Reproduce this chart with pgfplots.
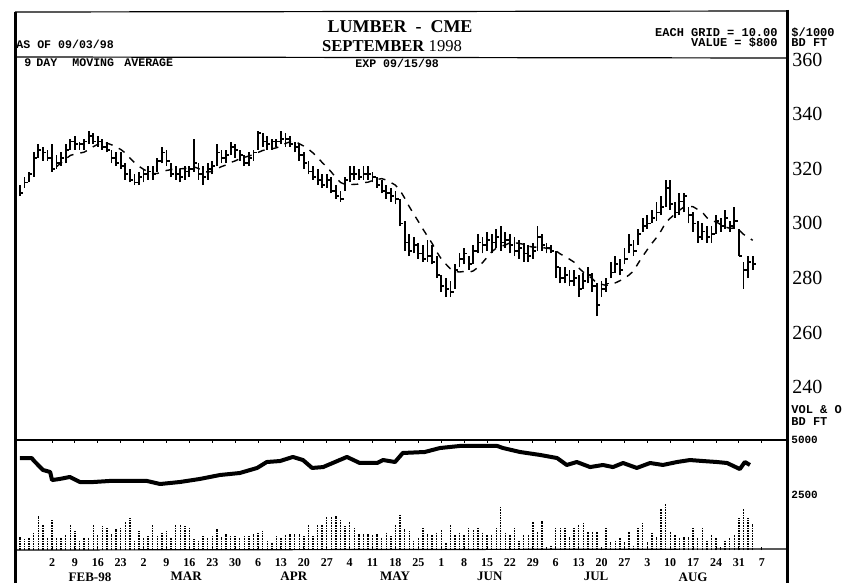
\documentclass[border=0pt]{standalone}
\usepackage{fontspec}
\setmainfont{Liberation Serif}
\setmonofont{Liberation Mono}
\usepackage{pgfplots}
\usepackage{pgfplotstable}
\pgfplotsset{compat=1.18}

\pgfplotstableread{
d h l c
-7 314 310 311
-6 317 313 315
-5 319 315 318
-4 326 317 324
-3 329 324 327
-2 328 323 326
-1 327 323 324
0 329 319 320
1 325 320 322
2 326 321 324
3 329 322 327
4 331 327 330
5 332 327 329
6 330 327 329
7 331 327 330
8 334 329 332
9 333 329 330
10 332 328 330
11 331 327 328
12 330 326 327
13 327 322 324
14 326 321 322
15 326 320 321
16 322 316 318
17 320 315 316
18 318 314 315
19 319 314 317
20 320 315 318
21 321 316 319
22 321 316 318
23 324 319 323
24 328 322 326
25 327 321 323
26 322 317 318
27 321 316 318
28 320 315 317
29 321 316 319
30 321 317 320
31 331 319 322
32 322 316 318
33 321 314 317
34 322 316 320
35 323 318 321
36 329 321 326
37 327 322 324
38 327 322 325
39 330 325 328
40 329 324 327
41 327 323 325
42 325 321 322
43 326 321 324
44 327 323 326
45 334 327 333
46 333 328 330
47 332 327 329
48 331 327 330
49 331 328 330
50 334 329 331
51 333 328 331
52 332 328 329
53 330 326 328
54 329 323 325
55 326 320 322
56 323 318 319
57 321 316 317
58 320 314 316
59 318 313 314
60 318 313 316
61 317 311 312
62 314 309 310
63 312 308 309
64 317 312 316
65 321 315 318
66 321 316 318
67 320 316 317
68 321 316 318
69 321 316 318
70 319 315 317
71 317 313 314
72 316 311 312
73 314 309 311
74 313 308 310
75 312 307 309
76 309 299 300
77 301 290 293
78 296 288 290
79 295 289 292
80 293 287 289
81 292 286 287
82 294 286 288
83 292 285 286
84 288 280 281
85 281 275 277
86 280 273 276
87 279 273 275
88 285 276 283
89 289 284 287
90 291 285 289
91 288 283 285
92 292 285 290
93 296 289 293
94 295 289 292
95 297 290 294
96 296 289 293
97 298 291 295
98 299 290 293
99 297 291 294
100 296 289 292
101 295 288 290
102 294 287 291
103 293 286 289
104 292 286 288
105 293 287 290
106 299 290 295
107 296 290 292
108 293 289 291
109 292 289 290
110 290 280 284
111 284 278 280
112 284 278 281
113 283 277 279
114 283 277 280
115 281 273 276
116 282 276 279
117 284 278 281
118 282 275 277
119 278 266 270
120 279 273 276
121 280 275 278
122 286 280 282
123 288 282 285
124 287 281 283
125 291 285 287
126 296 289 292
127 294 288 290
128 298 292 296
129 302 297 299
130 303 298 300
131 305 300 302
132 308 301 304
133 310 303 306
134 316 306 313
135 316 305 307
136 308 302 304
137 311 303 308
138 311 304 310
139 306 300 303
140 304 297 300
141 301 293 295
142 300 294 297
143 299 293 295
144 299 293 296
145 303 296 301
146 302 297 299
147 305 298 302
148 301 297 299
149 306 298 301
150 298 288 288
151 286 276 283
152 288 280 286
153 288 283 285
}\pricetable

\pgfplotstableread{
d m
1 320.8
2 322.2
3 323.6
4 324.9
5 325.4
6 325.7
7 326.1
8 327.0
9 328.1
10 329.0
11 329.4
12 329.4
13 328.8
14 328.0
15 327.1
16 325.8
17 324.0
18 322.3
19 320.9
20 319.8
21 318.9
22 318.2
23 318.3
24 318.9
25 319.4
26 319.7
27 320.0
28 320.0
29 320.1
30 320.2
31 320.7
32 320.1
33 319.1
34 318.8
35 319.1
36 320.0
37 320.8
38 321.4
39 322.3
40 322.9
41 323.7
42 324.2
43 324.7
44 325.2
45 326.0
46 326.7
47 327.1
48 327.3
49 327.7
50 328.3
51 329.3
52 329.9
53 330.1
54 329.2
55 328.3
56 327.2
57 325.8
58 324.2
59 322.3
60 320.7
61 318.8
62 316.8
63 315.0
64 314.3
65 314.2
66 314.3
67 314.4
68 314.9
69 315.1
70 315.7
71 316.1
72 316.4
73 315.9
74 315.0
75 314.0
76 312.1
77 309.3
78 306.2
79 303.4
80 300.7
81 297.9
82 295.3
83 292.7
84 289.6
85 287.0
86 285.1
87 283.4
88 282.4
89 282.2
90 282.4
91 282.1
92 282.6
93 283.9
94 285.6
95 287.6
96 289.6
97 290.9
98 291.6
99 292.1
100 292.9
101 292.9
102 292.7
103 292.3
104 291.7
105 291.3
106 291.3
107 291.2
108 290.9
109 290.7
110 290.0
111 288.8
112 287.9
113 286.9
114 285.8
115 283.7
116 282.2
117 281.1
118 279.7
119 278.1
120 277.7
121 277.3
122 277.7
123 278.2
124 279.0
125 279.9
126 281.1
127 282.6
128 285.4
129 288.0
130 290.4
131 292.7
132 294.8
133 297.3
134 300.2
135 301.9
136 303.4
137 304.8
138 306.0
139 306.3
140 306.1
141 305.1
142 304.1
143 302.1
144 300.9
145 300.6
146 299.6
147 298.7
148 298.2
149 298.3
150 297.6
151 296.0
152 295.0
153 293.8
}\matable

\pgfplotstableread{
d oi
-7 4180
-4.4 4180
-4.1 4090
-2 3640
-0.4 3545
0 3180
1.7 3230
3.9 3320
6.1 3090
9 3090
12.7 3140
17 3140
20.7 3140
23.6 3000
27.9 3090
32.3 3230
36.7 3410
41 3500
44.8 3730
46.9 4000
49.8 4045
52.6 4230
54.8 4090
56.8 3730
59.2 3770
64.4 4230
67.2 3955
71 3955
72.3 4090
74.9 4000
76.6 4410
81.4 4455
84.7 4635
89.1 4730
93.4 4730
97.2 4730
98.5 4635
102.2 4455
106.6 4320
110.3 4180
112.4 3865
114.6 4000
117.5 3770
120.3 3865
122.5 3770
124.7 3955
127.7 3730
130.6 3955
133.4 3865
136.5 4000
139.3 4090
142.1 4045
145.2 4000
147.4 3955
150.2 3680
151.3 4000
152.4 3865
}\oitable

\pgfplotstableread{
d v
-7 600
-6 500
-5 580
-4 800
-3 1560
-2 1180
-1 580
0 1360
1 580
2 580
3 700
4 1180
5 880
6 420
7 580
8 580
9 1180
10 700
11 1110
12 1030
13 730
14 950
15 1030
16 1260
17 1450
18 420
19 880
20 580
21 650
22 1180
23 650
24 800
25 880
26 580
27 1180
28 1180
29 1110
30 1030
31 500
32 420
33 650
34 580
35 650
36 950
37 600
38 730
39 650
40 650
41 580
42 650
43 650
44 730
45 800
46 880
47 420
48 350
49 650
50 580
51 700
52 730
53 730
54 730
55 650
56 1180
57 650
58 1180
59 1180
60 1490
61 1490
62 1560
63 1410
64 1100
65 1260
66 1030
67 730
68 730
69 730
70 700
71 730
72 580
73 800
74 650
75 1180
76 1640
77 950
78 880
79 420
80 580
81 1030
82 730
83 680
84 760
85 910
86 300
87 1140
88 680
89 760
90 680
91 1060
92 910
93 990
94 760
95 680
96 680
97 990
98 1970
99 760
100 680
101 990
102 450
103 680
104 680
105 1290
106 830
107 1320
108 150
109 230
110 990
111 1020
112 1060
113 610
114 1060
115 1170
116 1210
117 830
118 830
119 830
120 150
121 1060
122 380
123 450
124 530
125 380
126 830
127 230
128 990
129 1210
130 380
131 760
132 610
133 1890
134 2120
135 830
136 680
137 530
138 610
139 610
140 990
141 530
142 1060
143 450
144 680
145 530
146 150
147 450
148 530
149 680
150 1440
151 1890
152 1440
153 1200
}\voltable

\begin{document}
\begin{tikzpicture}[x=0.5pt,y=-0.5pt]
\useasboundingbox (0,0) rectangle (860,583);

% ---------------- price panel ----------------
\begin{axis}[
  at={(7.5pt,-29pt)}, anchor=north west,
  scale only axis, width=386pt, height=191pt,
  xmin=-8.08, xmax=160.5, ymin=220.66, ymax=360.59,
  axis line style={draw=none},
  xtick=\empty,
  ytick={240,260,280,300,320,340,360},
  yticklabels={240,260,280,300,320,340,360},
  yticklabel pos=right,
  ytick style={draw=none},
  yticklabel style={font=\fontsize{10}{10}\selectfont, inner sep=0pt, anchor=west, xshift=2.5pt},
]
% high-low bars
\addplot[black, draw=none, mark=none,
  error bars/.cd, y dir=plus, y explicit, error mark=none,
  error bar style={draw=black, solid, line width=0.9pt}]
  table[x=d, y=l, y error expr=\thisrow{h}-\thisrow{l}] {\pricetable};
% close ticks
\addplot[black, draw=none, mark=none,
  error bars/.cd, x dir=plus, x fixed=0.7, error mark=none,
  error bar style={draw=black, solid, line width=0.9pt}]
  table[x=d, y=c] {\pricetable};
% 9 day moving average
\addplot[black, line width=0.7pt, dash pattern=on 3.5pt off 3.5pt, mark=none]
  table[x=d, y=m] {\matable};
\end{axis}

% ---------------- volume / open interest panel ----------------
\begin{axis}[
  at={(7.5pt,-220pt)}, anchor=north west,
  scale only axis, width=386pt, height=55pt,
  xmin=-8.08, xmax=160.5, ymin=0, ymax=5000,
  axis line style={draw=none},
  xtick={0,5,...,155},
  xticklabels={2,9,16,23,2,9,16,23,30,6,13,20,27,4,11,18,25,1,8,15,22,29,6,13,20,27,3,10,17,24,31,7},
  xtick pos=both,
  tick align=inside,
  major tick length=1.3pt,
  xtick style={black, line width=0.5pt},
  xticklabel style={font=\bfseries\fontsize{6}{6}\selectfont, inner sep=0pt, anchor=north, yshift=-4pt},
  extra x ticks={8.3,29.3,52.8,74.9,95.6,118.8,140},
  extra x tick labels={FEB-98,MAR,APR,MAY,JUN,JUL,AUG},
  extra x tick style={major tick length=0pt, xticklabel style={yshift=-7pt, font=\bfseries\fontsize{6.5}{6.5}\selectfont}},
  ytick={2500,5000},
  yticklabels={2500,5000},
  yticklabel pos=right,
  ytick style={draw=none},
  yticklabel style={font=\ttfamily\bfseries\fontsize{5.5}{5.5}\selectfont, inner sep=0pt, anchor=west, xshift=2pt},
]
\addplot[ycomb, black, line width=0.7pt, dash pattern=on 0.8pt off 0.5pt, mark=none]
  table[x=d, y=v] {\voltable};
\addplot[black, line width=2pt, line join=round, mark=none]
  table[x=d, y=oi] {\oitable};
\end{axis}

% ---------------- frame ----------------
\draw[line width=1.5pt] (15,12) -- (15,583);
\draw[line width=1.5pt] (787,10) -- (787,583);
\draw[line width=0.6pt] (15,12) -- (787,11);
\draw[line width=0.6pt] (15,57) -- (787,58);
\draw[line width=0.6pt] (15,440) -- (787,440);
\draw[line width=0.6pt] (15,550) -- (787,549);

% ---------------- header texts ----------------
\node[font=\bfseries\fontsize{9}{9}\selectfont, inner sep=0pt] at (400,27) {LUMBER \ - \ CME};
\node[font=\fontsize{8.3}{8.3}\selectfont, inner sep=0pt] at (392,46) {\textbf{SEPTEMBER} 1998};
\node[font=\ttfamily\bfseries\fontsize{5.8}{5.8}\selectfont, inner sep=0pt, anchor=west] at (16,44) {AS OF 09/03/98};
\node[font=\ttfamily\bfseries\fontsize{5.8}{5.8}\selectfont, inner sep=0pt, anchor=west] at (24,63) {9};
\node[font=\ttfamily\bfseries\fontsize{5.8}{5.8}\selectfont, inner sep=0pt, anchor=west] at (36,63) {DAY};
\node[font=\ttfamily\bfseries\fontsize{5.8}{5.8}\selectfont, inner sep=0pt, anchor=west] at (72,63) {MOVING};
\node[font=\ttfamily\bfseries\fontsize{5.8}{5.8}\selectfont, inner sep=0pt, anchor=west] at (124,63) {AVERAGE};
\node[font=\ttfamily\bfseries\fontsize{5.8}{5.8}\selectfont, inner sep=0pt, anchor=west] at (355,63) {EXP 09/15/98};
\node[font=\ttfamily\bfseries\fontsize{6}{6}\selectfont, inner sep=0pt, anchor=east] at (778,33) {EACH GRID = 10.00};
\node[font=\ttfamily\bfseries\fontsize{6}{6}\selectfont, inner sep=0pt, anchor=east] at (778,43) {VALUE = \$800};
\node[font=\ttfamily\bfseries\fontsize{6}{6}\selectfont, inner sep=0pt, anchor=west] at (791,33) {\$/1000};
\node[font=\ttfamily\bfseries\fontsize{6}{6}\selectfont, inner sep=0pt, anchor=west] at (791,43) {BD FT};
\node[font=\ttfamily\bfseries\fontsize{6}{6}\selectfont, inner sep=0pt, anchor=west] at (791,410) {VOL \& O};
\node[font=\ttfamily\bfseries\fontsize{6}{6}\selectfont, inner sep=0pt, anchor=west] at (791,422) {BD FT};
\end{tikzpicture}
\end{document}
